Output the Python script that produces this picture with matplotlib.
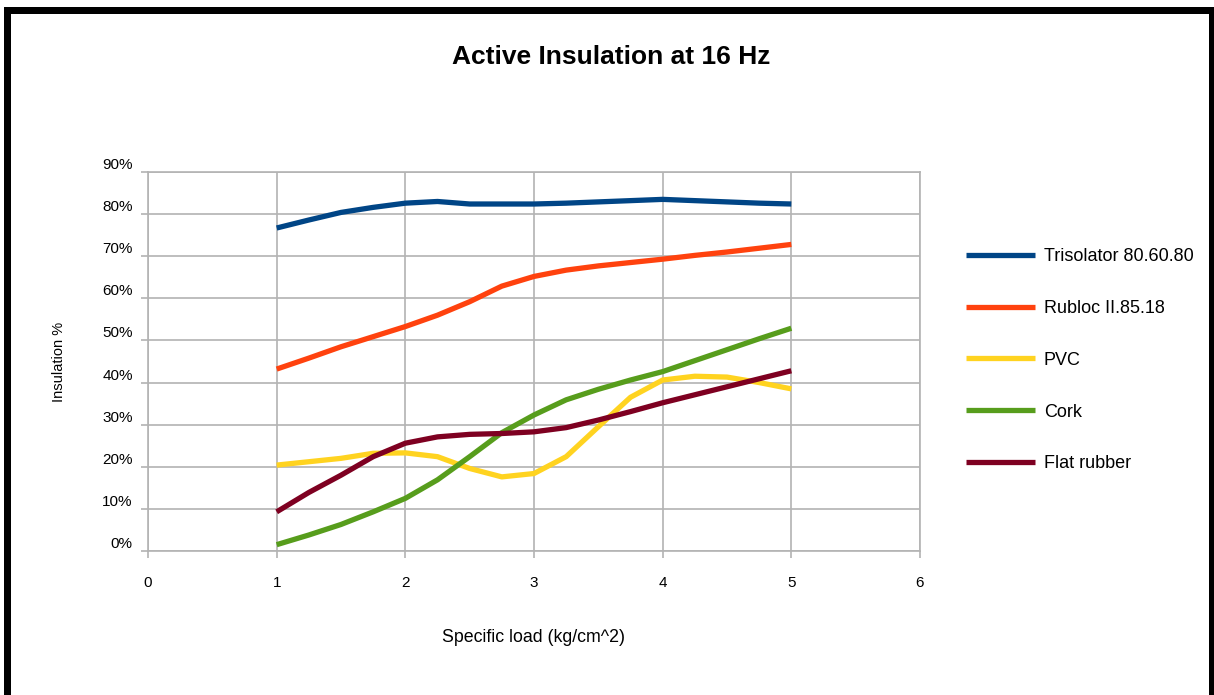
import matplotlib
matplotlib.use("Agg")
import matplotlib.pyplot as plt
from matplotlib.patches import Rectangle
from matplotlib.ticker import FuncFormatter

plt.rcParams['font.family'] = ['Liberation Sans', 'DejaVu Sans']

load = [1, 1.25, 1.5, 1.75, 2, 2.25, 2.5, 2.75, 3, 3.25, 3.5, 3.75, 4, 4.25, 4.5, 4.75, 5]
trisolator = [76.7, 78.6, 80.4, 81.6, 82.6, 83.0, 82.4, 82.4, 82.4, 82.6, 82.9, 83.2, 83.5, 83.2, 82.9, 82.6, 82.4]
rubloc = [43.2, 45.8, 48.5, 50.9, 53.3, 56.0, 59.2, 62.9, 65.2, 66.7, 67.7, 68.5, 69.3, 70.2, 71.0, 71.9, 72.8]
pvc = [20.4, 21.2, 22.0, 23.2, 23.3, 22.4, 19.6, 17.6, 18.4, 22.4, 29.5, 36.5, 40.6, 41.5, 41.3, 40.0, 38.5]
cork = [1.5, 3.8, 6.3, 9.3, 12.5, 16.9, 22.4, 28.1, 32.3, 35.9, 38.4, 40.6, 42.6, 45.2, 47.8, 50.4, 52.9]
flat_rubber = [9.3, 13.9, 18.0, 22.4, 25.6, 27.1, 27.7, 27.9, 28.3, 29.3, 31.1, 33.1, 35.2, 37.1, 39.0, 40.9, 42.8]

series = [
    ("Trisolator 80.60.80", trisolator, "#004586"),
    ("Rubloc II.85.18", rubloc, "#ff420e"),
    ("PVC", pvc, "#ffd320"),
    ("Cork", cork, "#579d1c"),
    ("Flat rubber", flat_rubber, "#7e0021"),
]

W, H = 1214, 695
fig = plt.figure(figsize=(W / 100, H / 100), dpi=100)
ax = fig.add_axes([148 / W, 1 - 551 / H, (920 - 148) / W, (551 - 172) / H])

for name, vals, col in series:
    ax.plot(load, vals, color=col, lw=3.8, label=name, solid_joinstyle='round', solid_capstyle='butt')

ax.set_xlim(0, 6)
ax.set_ylim(0, 90)
ax.set_xticks(range(0, 7))
ax.set_yticks(range(0, 91, 10))
ax.yaxis.set_major_formatter(FuncFormatter(lambda v, p: f"{int(v)}%"))
grid_c = "#b3b3b3"
ax.grid(True, color=grid_c, lw=1.2)
ax.set_axisbelow(True)
for s in ax.spines.values():
    s.set_color(grid_c)
    s.set_linewidth(1.2)
ax.tick_params(axis='both', colors=grid_c, length=5, width=1.2, labelcolor='black', labelsize=11)
ax.tick_params(axis='x', pad=13)
ax.tick_params(axis='y', pad=6)
for lbl in ax.get_yticklabels():
    lbl.set_verticalalignment('bottom')

ax.set_xlabel("Specific load (kg/cm^2)", fontsize=12.8, labelpad=28)
ax.set_ylabel("Insulation %", fontsize=10.5, labelpad=26)
fig.text(611 / W, 1 - 57 / H, "Active Insulation at 16 Hz", ha='center', va='center',
         fontsize=19, fontweight='bold')

leg = ax.legend(loc='upper left', bbox_to_anchor=(957 / W, 1 - 239 / H), bbox_transform=fig.transFigure,
                frameon=False, fontsize=13, handlelength=3.8, handletextpad=0.5, labelspacing=1.93,
                borderpad=0)

# black frame
fig.add_artist(Rectangle((4 / W, 0), 7 / W, 1 - 7 / H, transform=fig.transFigure, color='black', lw=0))
fig.add_artist(Rectangle((4 / W, 1 - 14 / H), (1214 - 4) / W, 7 / H, transform=fig.transFigure, color='black', lw=0))
fig.add_artist(Rectangle((1209 / W, 0), 5 / W, 1 - 7 / H, transform=fig.transFigure, color='black', lw=0))

fig.savefig("out.png", dpi=100)
